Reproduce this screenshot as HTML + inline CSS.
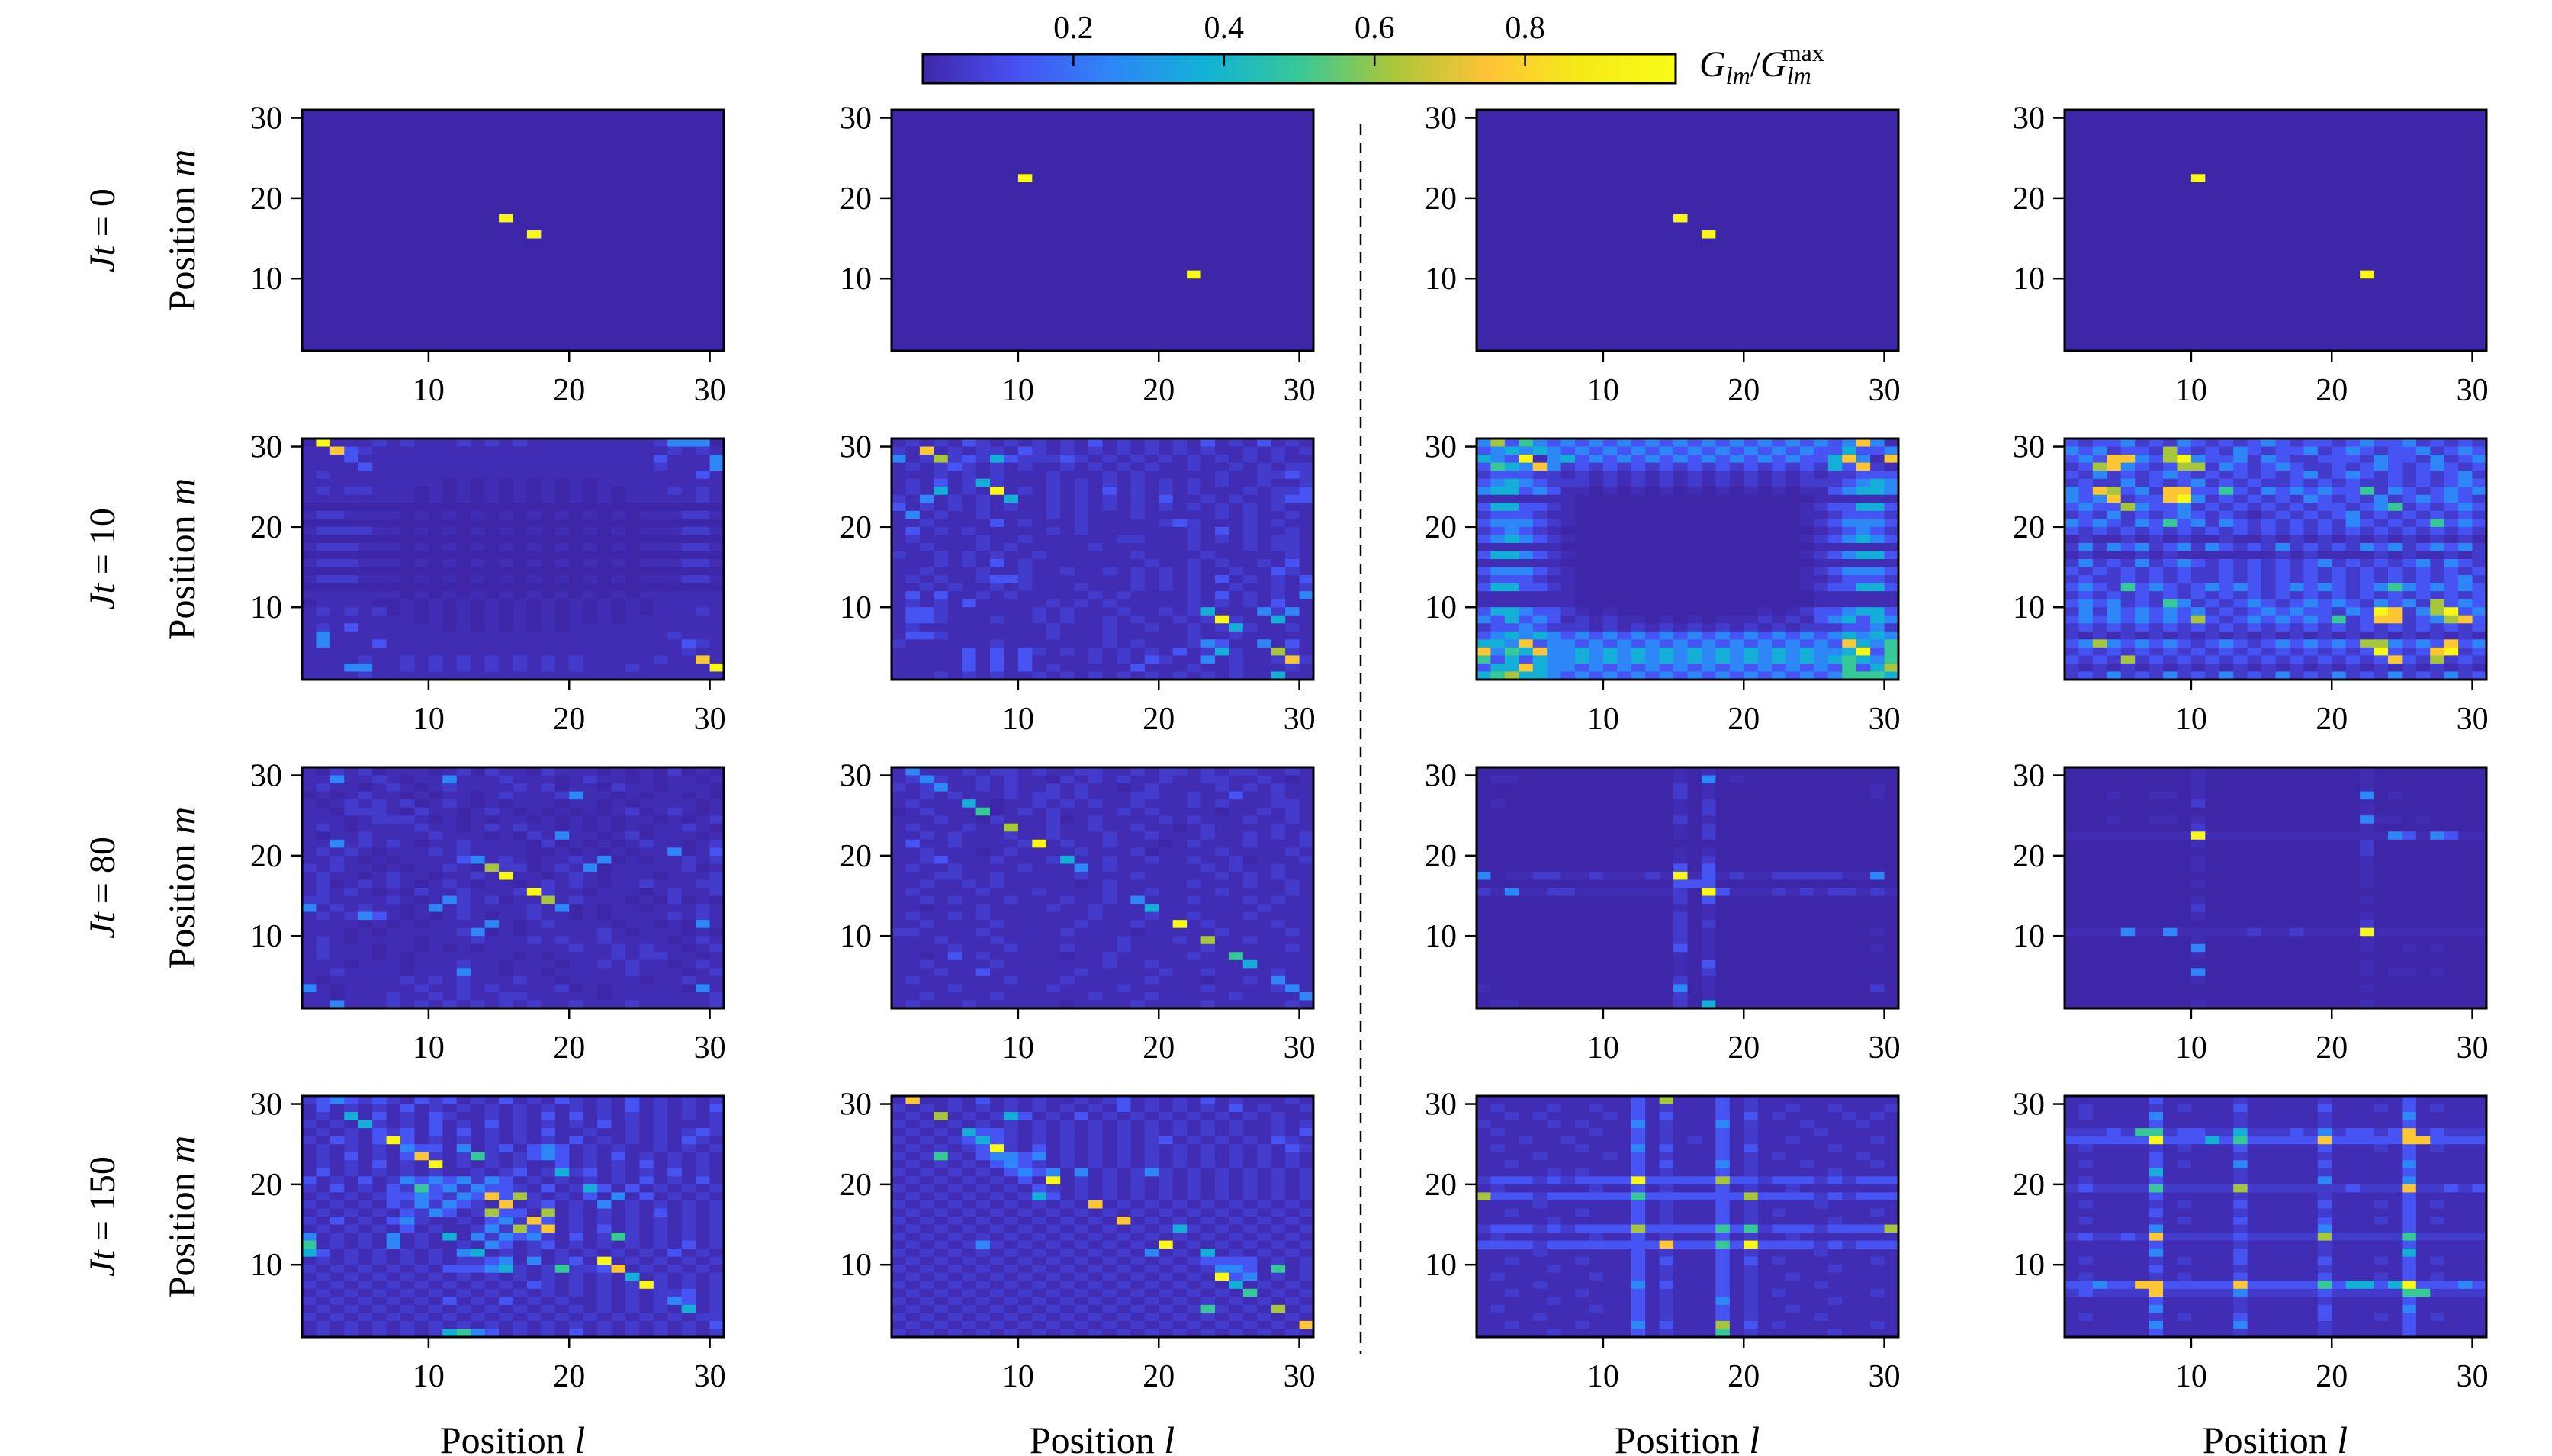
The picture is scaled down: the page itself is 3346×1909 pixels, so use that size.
<!DOCTYPE html>
<html><head><meta charset="utf-8"><style>
html,body{margin:0;padding:0;background:#fff;}
svg{display:block;font-family:"Liberation Serif","DejaVu Serif",serif;}
</style></head><body>
<svg id="fig" xmlns="http://www.w3.org/2000/svg" width="3346" height="1909" viewBox="0 0 3346 1909">
<defs><linearGradient id="cbgrad" x1="0" x2="1" y1="0" y2="0"></linearGradient></defs>
<g id="cells"></g>
<g id="axes"></g>
<line x1="1784" y1="163" x2="1784" y2="1775" stroke="#000" stroke-width="2.5" stroke-dasharray="14 10"/>
<g font-size="48">
<text transform="translate(150,302) rotate(-90)" text-anchor="middle"><tspan font-style="italic">Jt</tspan> = 0</text>
<text transform="translate(150,733) rotate(-90)" text-anchor="middle"><tspan font-style="italic">Jt</tspan> = 10</text>
<text transform="translate(150,1164) rotate(-90)" text-anchor="middle"><tspan font-style="italic">Jt</tspan> = 80</text>
<text transform="translate(150,1595) rotate(-90)" text-anchor="middle"><tspan font-style="italic">Jt</tspan> = 150</text>
</g>
<g font-size="50">
<text transform="translate(255,302) rotate(-90)" text-anchor="middle">Position <tspan font-style="italic">m</tspan></text>
<text transform="translate(255,733) rotate(-90)" text-anchor="middle">Position <tspan font-style="italic">m</tspan></text>
<text transform="translate(255,1164) rotate(-90)" text-anchor="middle">Position <tspan font-style="italic">m</tspan></text>
<text transform="translate(255,1595) rotate(-90)" text-anchor="middle">Position <tspan font-style="italic">m</tspan></text>
</g>
<g font-size="50" text-anchor="middle">
<text x="672" y="1905">Position <tspan font-style="italic">l</tspan></text>
<text x="1445" y="1905">Position <tspan font-style="italic">l</tspan></text>
<text x="2212" y="1905">Position <tspan font-style="italic">l</tspan></text>
<text x="2983" y="1905">Position <tspan font-style="italic">l</tspan></text>
</g>
<g id="colorbar">
<rect x="1210" y="71" width="987" height="38" fill="url(#cbgrad)" stroke="#000" stroke-width="3"/>
<text x="2228" y="100" font-size="48"><tspan font-style="italic">G</tspan><tspan font-style="italic" font-size="32" dy="10">lm</tspan><tspan dy="-10">/</tspan><tspan font-style="italic">G</tspan><tspan font-style="italic" font-size="32" dy="10">lm</tspan><tspan font-size="32" dx="-38" dy="-30">max</tspan></text>
</g>
</svg>
<script>
const levelValues=[0.0,0.02,0.06,0.13,0.25,0.37,0.5,0.62,0.76,0.97];
const xTickValues=[10,20,30];
const yTickValues=[10,20,30];
const cbTickValues=[0.2,0.4,0.6,0.8];
const cbTickLabels=["0.2","0.4","0.6","0.8"];

const blankRows=[
"0000000000 0000000000 0000000000","0000000000 0000000000 0000000000","0000000000 0000000000 0000000000",
"0000000000 0000000000 0000000000","0000000000 0000000000 0000000000","0000000000 0000000000 0000000000",
"0000000000 0000000000 0000000000","0000000000 0000000000 0000000000","0000000000 0000000000 0000000000",
"0000000000 0000000000 0000000000","0000000000 0000000000 0000000000","0000000000 0000000000 0000000000",
"0000000000 0000000000 0000000000","0000000000 0000000000 0000000000","0000000000 0000000000 0000000000",
"0000000000 0000000000 0000000000","0000000000 0000000000 0000000000","0000000000 0000000000 0000000000",
"0000000000 0000000000 0000000000","0000000000 0000000000 0000000000","0000000000 0000000000 0000000000",
"0000000000 0000000000 0000000000","0000000000 0000000000 0000000000","0000000000 0000000000 0000000000",
"0000000000 0000000000 0000000000","0000000000 0000000000 0000000000","0000000000 0000000000 0000000000",
"0000000000 0000000000 0000000000","0000000000 0000000000 0000000000","0000000000 0000000000 0000000000"];
const p11Peaks=[[15,17,9],[17,15,9]];
const p12Peaks=[[10,22,9],[22,10,9]];
const p13Peaks=[[15,17,9],[17,15,9]];
const p14Peaks=[[10,22,9],[22,10,9]];

const p21Rows=[
"0911121211 1212121111 1111124410","1183211111 1111111111 1111112121","1113111111 1111111111 1111131114",
"1111311111 1111111111 1111121114","1211111111 1111111111 1111111131","1111111111 0101010101 0111111111",
"1212211101 0101010101 0101112121","1111111101 0101010101 0101111121","0000000000 0000000000 0000000000",
"1221111010 1010101010 1010111221","0000000000 0000000000 0000000000","1222211010 1010101010 1010111221",
"0000000000 0000000000 0000000000","1222111010 1010101010 1010111221","0000000000 0000000000 0000000000",
"1222111010 1010101010 1010111221","0000000000 0000000000 0000000000","1222111010 1010101010 1010111221",
"0000000000 0000000000 0000000000","1111111010 1010101010 1010111111","0111100101 0101010101 0101011111",
"1212120101 0101010101 0101011121","1111111101 0101010101 0101111111","1213111111 0101010101 1111111111",
"1411111111 1111111111 1111112111","1411131111 1111111111 1111111321","1111111111 1111111111 1111111211",
"1111211212 1212121212 1111121181","1113411212 1212121212 1112111119","1111211111 1111111111 1111111111"];
const p21Peaks=[[2,30,9],[3,29,8],[28,30,4],[29,30,4],[30,28,4],[30,27,4],[29,3,8],[30,2,9],[2,5,4],[2,6,4],[4,2,4],[5,2,4],[4,7,3]];

const p22Rows=[
"1212132121 2121312121 2131213121","2121212213 2121212121 2121121212","4121232132 2232121212 1212121211",
"1212321212 1121212121 1211212122","1112121211 1211121211 1112112232","1213121211 1212121212 1212112112",
"1212121312 1212131212 1211121223","2121212121 1212121213 1121211233","3121212121 1212121212 1212121211",
"1312112111 1212111211 1112121121","1121111312 1112111112 3211121211","1312121111 1212111111 1213121121",
"1211112112 1111112211 1212121221","1121112121 1111211111 1211121221","2112121211 2111111211 1121111121",
"1112121312 1111111121 1212112131","1121112112 1121121212 1211211321","1212112332 1111111212 1213121213",
"1121211212 1112111212 1211211212","1313112121 1111212111 1213121214","1212131111 1212121111 1212121311",
"1332111111 2121112112 1221111221","1332111211 2121121211 2121211211","1211111111 1211121121 1212121121",
"1332111111 1211121111 1211211111","2111111211 1111121211 1213112131","1111131313 2121212121 3121211121",
"1111131313 1111212132 1121211212","1111131313 1211111311 1211211121","1112121211 2121212121 2121211111"];
const p22Peaks=[[3,29,8],[4,28,7],[8,28,5],[1,28,4],[7,25,5],[4,24,5],[8,24,9],[9,23,5],[3,23,4],[2,21,4],[23,9,5],[24,8,9],[25,7,5],[28,8,5],[29,9,4],[27,9,4],[24,4,5],[28,4,7],[29,3,8],[23,3,4],[28,1,5],[23,5,4],[27,5,4],[30,11,4],[2,9,3],[3,9,3]];

const p23Rows=[
"4736434343 4343434343 4343434841","3454543434 3434343434 3434335334","5439145343 4343434343 4343358418",
"3654842323 2323232323 2323253821","2333221212 1212121212 1212122333","3454322212 1212121212 1212223454",
"4553431101 0101010101 0101134554","1111111000 0000000000 0000111111","3553321000 0000000000 0001233553",
"2333211000 0000000000 0001123332","3444321000 0000000000 0001234443","2343210000 0000000000 0000123432",
"3454321000 0000000000 0001234543","1111110000 0000000000 0000111111","3554321000 0000000000 0001234553",
"1111110000 0000000000 0000111111","3444321000 0000000000 0001234443","2333211000 0000000000 0001123332",
"3553321000 0000000000 0001233553","1111111000 0000000000 0000111111","1111111000 0000000000 0000111111",
"3554332101 0000000000 1012334553","4353431212 1101010111 2121345354","2334322212 1212121212 1212223342",
"3454543434 3434343434 3434345454","5548344343 4343434343 4343438546","8465844545 4545454545 4545445936",
"6353544545 4545454545 4545456546","3558544343 4343434343 4343436357","5675543434 3434343434 3434346665"];
const p23Peaks=[[4,28,9],[5,27,8],[27,28,8],[30,28,8],[28,27,8],[4,5,8],[27,5,8],[5,4,8],[1,4,8],[28,4,9],[4,2,8]];

const p24Rows=[
"3233423243 2323432332 3433423232","4342332432 3243233423 4323342343","3433243324 3342432233 3243324234",
"2343432343 2432343223 2343234323","3242323432 3232323423 4323232342","2322423234 2323223232 3223232343",
"4342342343 3232434343 3424323434","4343233434 2323232432 3242343432","3433243342 3232323233 2343232343",
"2324232343 2321232323 4232323232","4343243434 2432323232 4323234343","3232323232 3232323232 3232323232",
"1211212121 1211212121 2121212121","2424342342 4323242323 2434234342","1211121211 1111121211 1121211212",
"2423242343 2323232342 3232342432","3232323232 2323232323 2323232323","2322323232 2323232323 2323232342",
"3432434323 4343234343 2343434343","2323232323 2323232323 2323232323","3434232342 3234323434 3243424343",
"2424343434 2323434332 4323243434","3434343434 3234343434 2343234343","2323232323 2323232323 2323232323",
"2121212121 2121212121 2121212121","3434343432 3432343434 3434343434","2323232323 2323232323 2323232323",
"3232323232 3232323232 3232323232","2121212121 2121212121 2121212121","2324232423 2423242324 2324232423"];
const p24Peaks=[[4,28,8],[5,28,8],[3,27,7],[4,27,8],[8,29,7],[8,28,7],[9,28,9],[9,27,7],[10,27,7],[3,24,8],[4,24,7],[4,23,8],[5,22,7],[8,24,8],[9,24,8],[8,23,8],[9,23,9],[23,9,9],[24,9,8],[23,8,8],[24,8,8],[27,10,7],[28,9,9],[27,9,7],[29,8,8],[28,8,7],[22,5,7],[23,5,7],[23,4,9],[24,3,8],[27,4,8],[28,5,8],[28,4,9],[27,3,7],[8,20,6],[12,24,6],[22,24,6],[24,22,6],[27,20,6],[3,5,7],[5,3,7],[8,10,6],[10,8,7],[5,12,6],[24,12,6],[20,8,6]];

const p31Rows=[
"1021201110 1202110211 1010102010","1121121011 3111211101 2110101101","1211012101 2111121201 1021101110",
"0101211010 1101211120 1101011010","1012121201 2101011101 1010111101","1102221021 1012101010 1012012101",
"1110122210 1010110101 0101101012","1210111121 1012121101 0101011210","1011211112 1110102101 1012011101",
"1131212101 1211110201 0101211012","1212101112 1211110010 1010111013","1121010111 1321210112 1201011212",
"2121101011 2101220121 1011111201","1211012110 1121011012 1011101112","1201212101 2101101212 1011211122",
"1212101021 1211121211 0111012112","2211112101 1212011212 1110102010","2121211012 1211112110 1011011121",
"1212131010 1210112110 1011112121","1111010101 1112101211 1101101021","1110101111 1210101111 1210111010",
"1210111101 1121112121 1211110121","1211101101 0101111112 1121211012","1211101011 1111101011 1121221101",
"1110111011 1211011101 1212110121","1121111011 1211011011 1112111012","1011111212 1211121101 1111011211",
"2101111121 1212111120 1011111021","1101112112 1211221111 1011111112","1131112121 2121212112 1112111112"];
const p31Peaks=[[14,18,7],[15,17,9],[17,15,9],[18,14,7],[19,13,4],[13,19,4],[19,22,4],[20,27,4],[27,20,4],[22,19,4],[21,18,4],[5,12,4],[14,11,4],[13,10,4],[29,11,4],[12,5,4],[1,3,4],[29,3,4],[3,1,4],[3,21,4],[1,13,4],[3,29,4],[11,29,4],[10,13,4],[11,14,4]];

const p32Rows=[
"1211121221 2112211212 2121221121","1212112121 1021212112 1122112101","2121112121 1212110121 1112121211",
"1121211121 2212111221 1211211211","1211121011 2121211211 1212111221","0121112012 1211112121 1110112121",
"1112110211 1201211112 1211121121","1211121121 1211211211 0121111211","1121211121 1211121121 1121121212",
"1311211112 1121121110 1211121112","1121110121 1112111201 1112111121","1123111211 1211121121 1211201112",
"1211211112 1111121111 1121211211","1112211211 1112111211 1112121211","1121121211 1110121111 1211121121",
"1211112111 2111121121 1112111121","1121211121 1121121211 1211121211","1101112111 1211211121 1111112111",
"1211212111 1111211121 1211121111","1121111211 1112111211 1121111211","2211112111 1121111011 1112111121",
"1112111211 1111112111 2111121111","1111211121 1121112111 1121111121","1101112111 1101121111 1211211111",
"1121111211 1111121121 1111121111","1112112111 1112111112 1121111211","1211111121 1121111121 1101121111",
"1111211111 1211112111 1121111211","1121111211 1111211121 1111211111","1211121111 1101111211 1121111121"];
const p32Peaks=[[2,30,4],[3,29,4],[4,28,4],[6,26,5],[7,25,6],[9,23,7],[11,21,9],[13,19,5],[14,18,4],[19,13,5],[18,14,4],[21,11,9],[23,9,7],[25,7,6],[26,6,5],[28,4,4],[29,3,4],[30,2,4],[25,27,3],[5,7,3],[7,5,3]];

const p33Rows=[
"0000000000 0000101000 0000000000","0110000000 0000104010 0000000000","0000000000 0000201000 0000000010",
"0000000000 0000201000 0000000010","0100000000 0000102000 0000000000","0000000000 0000102000 0000000000",
"0000000000 0000201000 0000000000","0000000000 0000102000 0000000000","0000000000 0000102000 0000000000",
"0000000000 0000000000 0000000000","0000000000 0000101000 0000000000","0000000000 0000102000 0000000000",
"0000000000 0000203000 0000000000","4011221121 1121913121 1222221140","0000000000 0000303000 0000000000",
"2141122111 1111209311 1212122121","0000000000 0000203000 0000000000","0000000000 0000101000 0000000000",
"0000000000 0000201000 0000000000","0000000000 0000202000 0000000000","0000000000 0000201000 0000000010",
"0000000000 0000201000 0000000000","0000000000 0000301000 0000000010","0000000000 0000101000 0000000000",
"0000000000 0000103000 0000000000","0000000000 0000102000 0000000000","0000000000 0000201000 0000000000",
"1000000000 0000401000 0000000020","0000000000 0000201000 0000000000","0110000000 0000205000 0000000000"];
const p33Peaks=[[15,17,9],[17,15,9],[17,29,4],[1,17,4],[29,17,4],[3,15,4],[15,3,4],[17,1,5],[16,16,3],[15,18,3],[17,14,3]];

const p34Rows=[
"0000000001 0000000000 0100000000","0000000001 0000000000 0100000000","0000000001 0000000000 0100000000",
"0001001101 0000000000 0301000000","0000000002 0000000000 0100000000","0000000000 0000000000 0100000000",
"0001001101 0000000000 0311010000","0000000002 0000000000 0100000000","1111111119 1111111111 1111311311",
"0000000001 0000000000 0200000000","0000000000 0000000000 0200000000","0000000001 0000000000 0100000000",
"0000000001 0000000000 0100000000","0000000000 0000000000 0100000000","0000000001 0000000000 0100000000",
"0000000000 0000000000 0000000000","0000000001 0000000000 0100000000","0000000002 0000000000 0000000000",
"0000000001 0000000000 0100000000","0000000000 0000000000 0200000000","1111311311 1112112111 1911111111",
"0000000001 0000000000 0100000000","0000000004 0000000000 0100101000","0000000001 0000000000 0000000000",
"0000000000 0000000000 0100000000","0000000003 0000000000 0101101000","0000000001 0000000000 0000000000",
"0000000000 0000000000 0100000000","0000000000 0000000000 0000000000","0000000001 0000000000 0100000000"];
const p34Peaks=[[10,22,9],[22,10,9],[22,27,4],[22,24,4],[24,22,4],[27,22,4],[5,10,4],[8,10,4],[10,8,4],[10,5,4]];

const p41Rows=[
"2343232132 3121312132 1213121212","1312121312 1212121212 1213121213","1213131213 2112121313 1212121212",
"2121121213 1213121212 1312121112","1212132313 1312121311 2112121232","2132131312 1212121213 1212121321",
"1212121433 1412313431 2121121212","1213121312 1232123431 2131212121","1212131212 1212121131 2121312121",
"1312121212 1121231212 3121213121","3121312434 3424312121 2121312131","2131213243 4243321312 1313121212",
"1212123343 2432312121 3141312121","2121213242 4321212312 1412121212","1212121324 3121331312 1212131212",
"2131213421 1213424312 1212121212","1212121312 1124243312 1312121212","4121214121 3142434213 1212121212",
"5121214121 1214312312 1212121312","2312121212 1431212121 2121213121","1212121212 1223414123 1212121212",
"2121212121 3334121212 2321212121","1212121212 1212121212 1212121212","2121212121 2121213212 1212121212",
"1212121212 1212121212 1212122312","2121212121 3121312121 1212121312","1212121212 1212121212 1212121212",
"2121212121 2121212121 2121212122","1212121212 1212121212 1212121213","1212121212 1343121213 1212121212"];
const p41Peaks=[[7,25,9],[9,23,8],[10,22,9],[13,23,6],[9,19,6],[14,18,8],[15,17,8],[16,18,7],[14,16,7],[18,16,7],[17,15,8],[16,14,7],[18,14,8],[23,13,6],[22,10,9],[23,9,8],[24,8,5],[25,7,9],[19,9,6],[28,4,5],[27,5,4],[1,12,6],[1,11,5],[4,28,5],[5,27,5],[19,21,5],[21,19,5],[11,13,5],[13,11,5],[15,9,5],[12,1,6],[11,1,5]];

const p42Rows=[
"1211213121 2112123121 2131211121","2121212121 2121213121 2121312112","1212121213 1213121212 1212121211",
"2121212121 2121212121 2121211212","1212133321 2121212121 2121211213","2121234321 2121212123 1212121321",
"1212123321 3121212121 2121212132","2121213443 4121212121 2121212121","1212121343 2121212121 2121212121",
"2121212134 3412121212 1212121212","1212121213 1212121212 1212121212","2121212121 3212121212 1212121212",
"1212121212 1312121212 1212121212","2121212121 2121212121 2121212121","1212121212 1212121212 1212121212",
"2121212121 2121212121 2121212121","1212121212 1212121212 1212121212","2121212121 2121212121 2121212121",
"1212121212 1212121212 1212121212","2121212121 2121212121 2121212121","1212121212 1212121212 1233331212",
"2121212121 2121212121 2124431212","1212121212 1212121212 1212341212","2121212121 2121212121 2121212121",
"1212121212 1212121212 1212121212","2121212121 2121212121 2121212121","1212121212 1212121212 1212121212",
"2121212121 2121212121 2121212121","1212121212 1212121212 1212121212","2121212121 2121212121 2121212121"];
const p42Peaks=[[2,30,8],[4,28,7],[9,28,5],[6,26,5],[7,25,5],[8,24,9],[4,23,6],[12,20,9],[11,18,5],[15,17,8],[17,15,8],[20,12,9],[24,8,9],[25,7,5],[26,6,6],[23,4,6],[28,4,7],[30,2,8],[28,9,6],[7,12,4],[21,14,5],[19,11,4],[23,11,5],[14,21,4],[19,21,4]];

const p43Rows=[
"1111111111 1317111312 1111111111","1211121121 1312111312 1121121112","1121211112 1313111313 1211112121",
"2111121211 1412111412 1112111211","1211111121 1312111312 1111211111","1112112111 1312121312 1121111121",
"1211111211 1413111313 1111121111","1111211112 1312111312 1211111211","1121111111 1313111412 1112111121",
"1111121211 1312111312 1111121111","2333232333 3933333733 2333232333","1211111121 1312111312 1121111111",
"7333233333 3633333337 3333232333","1111211111 1312111312 1111211111","1121111211 1312111312 1211111121",
"1111121111 1312111312 1111121111","2333232333 3733333636 2333233337","1211111121 1312111312 1121111111",
"3333233333 3338333639 3333232333","1111211111 1312111312 1111211111","1121111211 1313111313 1211111121",
"1111121111 1312111312 1111121111","1211111121 1312111312 1121111111","1111211111 1413111312 1111211111",
"1121111211 1312111312 1211111121","1111121111 1312111412 1111121111","1211111121 1312111312 1121111111",
"1111211111 1312111312 1111211111","1121111211 1413111713 1211111121","1111121111 1312111612 1111121111"];
const p43Peaks=[[12,20,9],[20,12,9],[14,12,8],[12,14,7],[18,20,7],[20,18,7],[1,18,7],[30,14,7],[14,30,7],[18,2,7],[18,1,6]];

const p44Rows=[
"1111113111 1121111121 1111311111","1211112121 1131111131 1121312111","1211114111 1121111121 1111411111",
"1111113111 1121111121 1111311111","2223226233 2252223242 3323823222","3333339333 3363333383 3333833333",
"1211112121 1131111131 1121312111","1111113111 1121111121 1111311111","1211113121 1141111131 1111411111",
"1111115111 1121111121 1111311111","1211113111 1121111141 1111411111","2322226222 2272222222 3222822323",
"1111113111 1121111121 1111311111","1211112121 1131111131 1121312111","1111113111 1121111121 1111311111",
"1211112121 1131111131 1121312111","1111114111 1121111141 1111311111","2322328222 2232222272 2222622222",
"1111113111 1121111121 1111311111","1111114111 1131111121 1111511111","1211112121 1131111131 1121312111",
"1111113111 1121111121 1111311111","1211112121 1131111131 1121312111","3343338333 3383333363 3535933343",
"2322228222 2242222232 2222622222","1111113111 1121111121 1111311111","1111114111 1121111131 1111411111",
"1211112121 1131111131 1121312111","1111114111 1141111121 1111311111","1111113111 1121111121 1111311111"];
const p44Peaks=[[7,25,9],[6,26,6],[13,26,5],[13,25,6],[11,25,5],[19,25,8],[25,26,8],[26,25,8],[7,21,5],[7,19,6],[13,19,7],[25,19,8],[7,13,8],[19,13,7],[25,13,6],[25,11,5],[6,7,8],[7,6,8],[13,7,8],[19,7,6],[21,7,5],[25,7,9],[26,6,6]];

// layout (not data)
const panelLeft=[396,1169,1936,2707];
const panelTop=[144,575,1006,1437];
const PW=553, PH=316;
const panelRows=[[blankRows,blankRows,blankRows,blankRows],[p21Rows,p22Rows,p23Rows,p24Rows],[p31Rows,p32Rows,p33Rows,p34Rows],[p41Rows,p42Rows,p43Rows,p44Rows]];
const panelPeaks=[[p11Peaks,p12Peaks,p13Peaks,p14Peaks],[p21Peaks,p22Peaks,p23Peaks,p24Peaks],[p31Peaks,p32Peaks,p33Peaks,p34Peaks],[p41Peaks,p42Peaks,p43Peaks,p44Peaks]];

const parulaStops=[[0,62,38,168],[0.125,72,82,244],[0.25,46,135,247],[0.375,18,177,214],[0.5,55,200,151],[0.625,171,199,57],[0.75,254,195,56],[0.875,245,235,24],[1,249,251,21]];
function parula(v){v=Math.max(0,Math.min(1,v));for(let i=1;i<parulaStops.length;i++){const a=parulaStops[i-1],b=parulaStops[i];if(v<=b[0]){const t=(v-a[0])/(b[0]-a[0]);return 'rgb('+[1,2,3].map(k=>Math.round(a[k]+(b[k]-a[k])*t)).join(',')+')';}}return 'rgb(249,251,21)';}

const NS='http://www.w3.org/2000/svg';
function mk(tag,attrs,parent){const e=document.createElementNS(NS,tag);for(const k in attrs)e.setAttribute(k,attrs[k]);parent.appendChild(e);return e;}

const cellsG=document.getElementById('cells');
const axesG=document.getElementById('axes');

for(let r=0;r<4;r++){for(let c=0;c<4;c++){
  const L=panelLeft[c],T=panelTop[r];
  const xs=l=>L+(l-1)/30*PW;
  const ys=m=>T+(31-m)/30*PH;
  const grid=panelRows[r][c].map(s=>s.replace(/ /g,'').padEnd(30,'0').slice(0,30).split('').map(ch=>+ch));
  panelPeaks[r][c].forEach(p=>{grid[30-p[1]][p[0]-1]=p[2];});
  const g=mk('g',{},cellsG);
  
  
  for(let i=0;i<30;i++){const m=30-i;for(let j=0;j<30;j++){const l=j+1;
    const x0=xs(l),x1=xs(l+1),y0=ys(m+1),y1=ys(m);
    const rc=mk('rect',{x:x0.toFixed(2),y:y0.toFixed(2),width:(x1-x0+0.6).toFixed(2),height:(y1-y0+0.6).toFixed(2),fill:parula(levelValues[grid[i][j]])},g);
    
    
  }}
  const fr=mk('rect',{x:L,y:T,width:PW,height:PH,fill:'none',stroke:'#000','stroke-width':3},axesG);
  
  
  xTickValues.forEach(v=>{
    const x=xs(v);
    const t=mk('line',{x1:x,y1:T+PH,x2:x,y2:T+PH+14,stroke:'#000','stroke-width':2.5},axesG);
    
    
    const tx=mk('text',{x:x,y:T+PH+65,'font-size':42,'text-anchor':'middle'},axesG);
    tx.textContent=String(v);
    
    
  });
  yTickValues.forEach(v=>{
    const y=ys(v);
    const t=mk('line',{x1:L-15,y1:y,x2:L,y2:y,stroke:'#000','stroke-width':2.5},axesG);
    
    
    const tx=mk('text',{x:L-26,y:y+14,'font-size':42,'text-anchor':'end'},axesG);
    tx.textContent=String(v);
    
    
  });
}}

// colorbar
const grad=document.getElementById('cbgrad');
for(let i=0;i<=40;i++){const v=i/40;mk('stop',{offset:v,'stop-color':parula(v)},grad);}
const cbG=document.getElementById('colorbar');
const cbX=v=>1210+v*987;
cbTickValues.forEach((v,i)=>{
  const t=mk('line',{x1:cbX(v),y1:71,x2:cbX(v),y2:86,stroke:'#000','stroke-width':2.5},cbG);
  
  
  const tx=mk('text',{x:cbX(v),y:50,'font-size':42,'text-anchor':'middle'},cbG);
  tx.textContent=cbTickLabels[i];
  
  
});
</script>
</body></html>
